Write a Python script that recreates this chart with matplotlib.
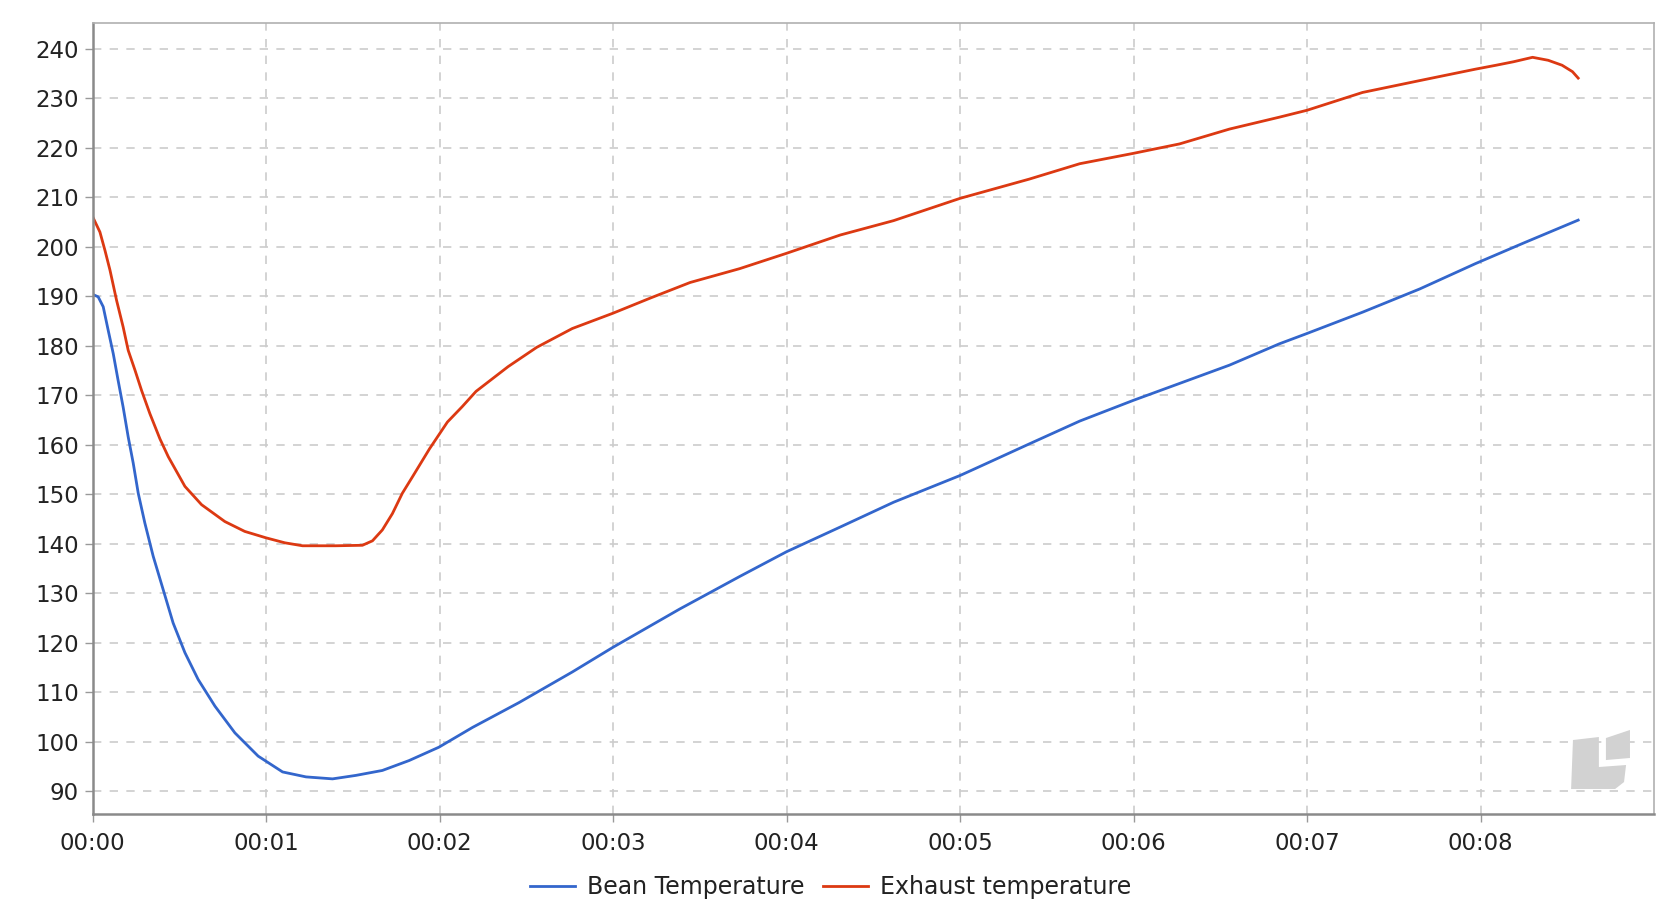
import matplotlib
matplotlib.use("Agg")
import matplotlib.pyplot as plt
from matplotlib.patches import Polygon
from matplotlib.ticker import FuncFormatter

# roast time in minutes, temperatures in degrees
bean_time = [0.0, 0.032, 0.061, 0.09, 0.119, 0.147, 0.176, 0.205, 0.234, 0.263,
             0.301, 0.349, 0.407, 0.464, 0.532, 0.608, 0.705, 0.82, 0.954, 1.095,
             1.23, 1.383, 1.517, 1.67, 1.824, 1.996, 2.19, 2.457, 2.765, 3.0,
             3.383, 3.73, 4.0, 4.31, 4.617, 5.0, 5.113, 5.4, 5.69, 6.0,
             6.265, 6.553, 6.84, 7.0, 7.32, 7.65, 7.97, 8.25, 8.563]
bean_temp = [190.4, 189.9, 187.9, 183.1, 178.4, 173.0, 167.6, 161.6, 156.3, 150.2,
             144.2, 137.5, 130.7, 124.0, 118.0, 112.6, 107.2, 101.8, 97.1, 93.9,
             92.9, 92.5, 93.2, 94.2, 96.2, 98.9, 102.9, 107.9, 114.1, 119.1,
             126.8, 133.4, 138.4, 143.4, 148.4, 153.8, 155.6, 160.2, 164.8, 169.0,
             172.4, 176.1, 180.4, 182.5, 186.8, 191.5, 196.6, 200.8, 205.4]

exhaust_time = [0.0, 0.042, 0.071, 0.1, 0.138, 0.176, 0.205, 0.244, 0.282, 0.33,
                0.388, 0.436, 0.532, 0.628, 0.762, 0.877, 1.0, 1.108, 1.21, 1.4,
                1.555, 1.613, 1.67, 1.728, 1.785, 1.843, 1.942, 2.045, 2.13, 2.21,
                2.395, 2.56, 2.765, 3.0, 3.218, 3.444, 3.73, 4.0, 4.31, 4.617,
                5.0, 5.4, 5.69, 6.0, 6.265, 6.553, 6.84, 7.0, 7.32, 7.65,
                7.97, 8.09, 8.19, 8.30, 8.39, 8.47, 8.53, 8.563]
exhaust_temp = [206.1, 203.0, 199.3, 195.3, 189.2, 183.8, 179.1, 175.1, 171.0, 166.3,
                161.2, 157.6, 151.6, 147.9, 144.5, 142.5, 141.2, 140.2, 139.6, 139.6,
                139.7, 140.6, 142.8, 146.1, 150.2, 153.5, 159.2, 164.6, 167.7, 170.8,
                175.8, 179.7, 183.5, 186.6, 189.7, 192.8, 195.6, 198.7, 202.4, 205.3,
                209.8, 213.7, 216.8, 218.9, 220.8, 223.8, 226.2, 227.6, 231.2, 233.6,
                235.9, 236.7, 237.4, 238.3, 237.7, 236.7, 235.4, 234.1]

x_ticks = list(range(0, 9))
y_ticks = list(range(90, 250, 10))

BLUE = "#3366cc"
RED = "#dc3912"

plt.rcParams['font.family'] = ['DejaVu Sans']

fig = plt.figure(figsize=(16.78, 9.14), dpi=100)
ax = fig.add_axes([0.0552, 0.1094, 0.9305, 0.8658])

ax.plot(bean_time, bean_temp, color=BLUE, lw=2.0, label="Bean Temperature")
ax.plot(exhaust_time, exhaust_temp, color=RED, lw=2.0, label="Exhaust temperature")

ax.set_xlim(0, 9)
ax.set_ylim(85.4, 245.3)
ax.set_xticks(x_ticks)
ax.set_yticks(y_ticks)
ax.xaxis.set_major_formatter(FuncFormatter(lambda x, _: f"00:{int(x):02d}"))

ax.grid(True, color="#cccccc", linestyle=(0, (5, 5)), linewidth=1.2)
ax.set_axisbelow(True)

for side in ["top", "right"]:
    ax.spines[side].set_color("#b0b0b0")
    ax.spines[side].set_linewidth(1.2)
for side in ["left", "bottom"]:
    ax.spines[side].set_color("#8a8a8a")
    ax.spines[side].set_linewidth(1.8)

ax.tick_params(axis="both", colors="#999999", length=6, width=1.0,
               labelcolor="#222222", labelsize=16.5)
ax.tick_params(axis="x", pad=7)
ax.tick_params(axis="y", pad=4)

# watermark logo in the lower right corner
logo_l = [(0.9469, 0.0316), (0.9481, 0.0935), (0.9647, 0.0973), (0.9647, 0.0594),
          (0.9821, 0.0619), (0.9808, 0.0404), (0.9751, 0.0316)]
logo_sq = [(0.9692, 0.0960), (0.9846, 0.1062), (0.9846, 0.0708), (0.9692, 0.0682)]
for pts in (logo_l, logo_sq):
    ax.add_patch(Polygon(pts, closed=True, transform=ax.transAxes,
                         facecolor="#d2d2d2", edgecolor="none", zorder=1))

fig.legend(loc="center", bbox_to_anchor=(0.495, 0.029), ncol=2, frameon=False,
           fontsize=17, handlelength=1.9, handletextpad=0.5, columnspacing=0.8,
           labelcolor="#222222")

fig.savefig("out.png", dpi=100)
